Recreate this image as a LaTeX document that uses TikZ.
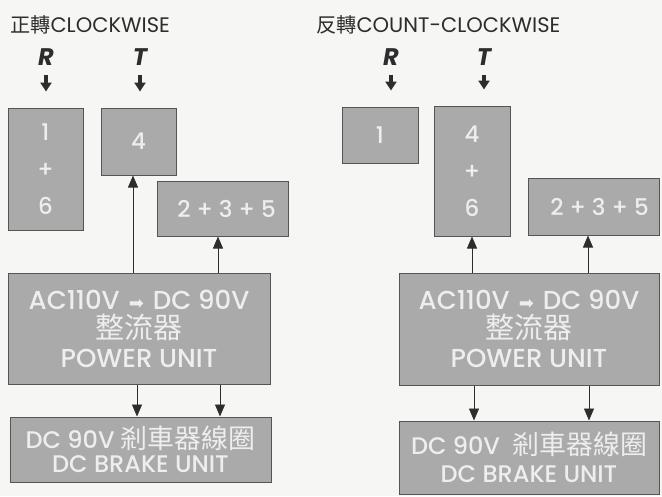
\documentclass[tikz,border=0pt]{standalone}
\usepackage{fontspec}
\setmainfont{Poppins}
\newfontfamily\unitfont{Poppins Medium}
\newfontfamily\cjkfont[Scale=1.12]{Noto Sans CJK TC}
\newfontfamily\symfont{DejaVu Sans}
\usetikzlibrary{arrows.meta, positioning}
\definecolor{boxgray}{RGB}{170, 170, 170}
\definecolor{edgegray}{RGB}{85, 85, 85}
\definecolor{txtwhite}{RGB}{238, 238, 238}
\definecolor{papergray}{RGB}{246, 246, 244}
\definecolor{inkgray}{RGB}{45, 45, 45}
\newcommand{\convarrow}{\hspace{9pt}{\symfont\fontsize{18}{18}\selectfont ➡}\hspace{9pt}}

\begin{document}
\begin{tikzpicture}[x=1pt, y=-1pt,
        box/.style={draw=edgegray, fill=boxgray, line width=1pt, text=txtwhite, inner sep=0pt, align=center},
        numbox/.style={box, font=\unitfont\fontsize{23}{37}\selectfont},
        unitbox/.style={box, font=\unitfont\fontsize{26}{29}\selectfont},
        title/.style={anchor=west, inner sep=0pt, text=inkgray, font=\fontsize{21}{22}\selectfont},
        phase/.style={inner sep=0pt, text=inkgray, font=\fontsize{24}{24}\bfseries\itshape},
        feed/.style={-{Triangle[length=9pt, width=11pt]}, line width=4pt, inkgray, shorten <=9pt, shorten >=16pt},
        arr/.style={-{Triangle[length=12pt, width=10pt]}, line width=0.8pt, inkgray}
      ]
        \useasboundingbox[fill=papergray] (0,0) rectangle (662,496);

        % clockwise
        \node[title] (cwtitle) at (10,25) {{\cjkfont\fontsize{18}{20}\selectfont 正轉}CLOCKWISE};
        \node[phase] (r1) at (46,57) {R};
        \node[phase] (t1) at (140,57) {T};
        \node[numbox, minimum width=75pt, minimum height=122pt] (box16) at (45.5,169) {1\\+\\6};
        \node[numbox, minimum width=75pt, minimum height=67pt] (box4) at (138.5,141.5) {4};
        \node[numbox, minimum width=131pt, minimum height=55pt] (box235) at (222.5,208.5) {\hspace{8pt}2 + 3 + 5};
        \node[unitbox, minimum width=262pt, minimum height=111pt] (power1) at (139,328.5)
          {AC110V\convarrow DC 90V\\{\cjkfont 整流器}\\POWER UNIT};
        \node[unitbox, minimum width=261pt, minimum height=65pt, font=\unitfont\fontsize{24}{24}\selectfont] (brake1) at (140.5,449.5)
          {DC 90V {\cjkfont 剎車器線圈}\\DC BRAKE UNIT};
        \draw[feed] (r1) -- (r1 |- box16.north);
        \draw[feed] (t1) -- (t1 |- box4.north);
        \draw[arr] (power1.north -| 133,0) -- (box4.south -| 133,0);
        \draw[arr] (power1.north -| 218,0) -- (box235.south -| 218,0);
        \draw[arr] (power1.south -| 137,0) -- (brake1.north -| 137,0);
        \draw[arr] (power1.south -| 220,0) -- (brake1.north -| 220,0);

        % counter-clockwise
        \node[title] (ccwtitle) at (316,25) {{\cjkfont\fontsize{18}{20}\selectfont 反轉}COUNT-CLOCKWISE};
        \node[phase] (r2) at (391,57) {R};
        \node[phase] (t2) at (484,57) {T};
        \node[numbox, minimum width=76pt, minimum height=56pt] (box1) at (380,135) {1};
        \node[numbox, minimum width=76pt, minimum height=130pt] (box46) at (472,171) {4\\+\\6};
        \node[numbox, minimum width=131pt, minimum height=57pt] (box235b) at (593.5,206.5) {\hspace{12pt}2 + 3 + 5};
        \node[unitbox, minimum width=260pt, minimum height=112pt] (power2) at (529,329)
          {AC110V\convarrow DC 90V\\{\cjkfont 整流器}\\POWER UNIT};
        \node[unitbox, minimum width=260pt, minimum height=73pt, font=\unitfont\fontsize{24}{28}\selectfont] (brake2) at (529,457.5)
          {DC 90V\ \ {\cjkfont 剎車器線圈}\\DC BRAKE UNIT};
        \draw[feed] (r2) -- (r2 |- box1.north);
        \draw[feed] (t2) -- (t2 |- box46.north);
        \draw[arr] (power2.north -| 472,0) -- (box46.south -| 472,0);
        \draw[arr] (power2.north -| 588,0) -- (box235b.south -| 588,0);
        \draw[arr] (power2.south -| 474,0) -- (brake2.north -| 474,0);
        \draw[arr] (power2.south -| 589,0) -- (brake2.north -| 589,0);
      \end{tikzpicture}
\end{document}
